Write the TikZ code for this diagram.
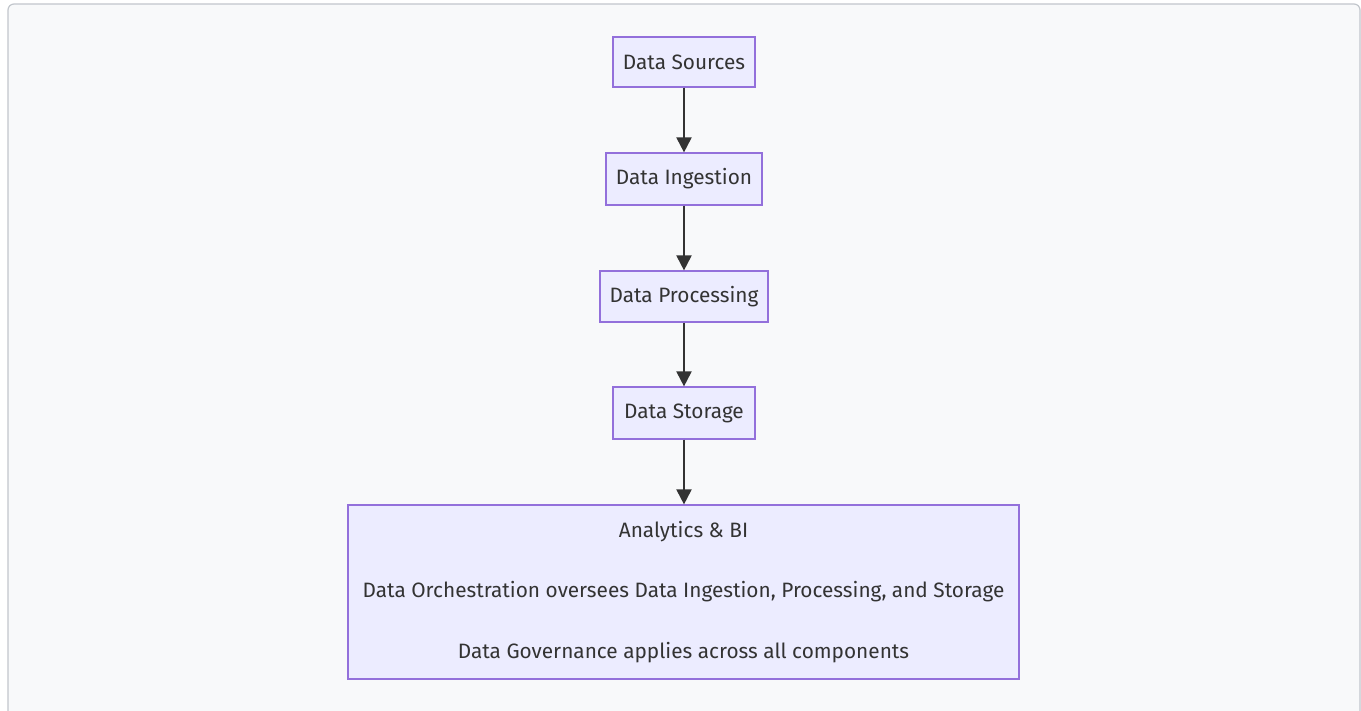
\documentclass[tikz,border=0pt]{standalone}
\usepackage{fontspec}
\setmainfont{Fira Sans}
\usetikzlibrary{arrows.meta}
\definecolor{pagebg}{HTML}{F8F9FA}
\definecolor{frameline}{HTML}{C2C6CC}
\definecolor{boxfill}{HTML}{ECECFF}
\definecolor{boxline}{HTML}{9370DB}
\definecolor{ink}{HTML}{333333}
\tikzset{
  x=1pt, y=-1pt,
  stage/.style={draw=boxline, fill=boxfill, line width=1.2pt, text=ink,
    font=\fontsize{20.8}{25}\selectfont, inner sep=0pt, anchor=center},
  flow/.style={draw=ink, line width=2pt, -{Triangle[length=15pt,width=15pt]}}
}
\begin{document}
\begin{tikzpicture}
  \useasboundingbox (0,0) rectangle (1361,710);
  \clip (0,0) rectangle (1361,710);
  \fill[white] (0,0) rectangle (1361,710);
  % rounded panel behind the flow
  \draw[frameline, fill=pagebg, line width=1.2pt, rounded corners=6pt]
    (8,4) rectangle (1360,730);

  \node[stage, minimum width=142pt, minimum height=50pt] (src) at (684,62) {Data Sources};
  \node[stage, minimum width=156pt, minimum height=52pt] (ing) at (684,179) {Data Ingestion};
  \node[stage, minimum width=168pt, minimum height=51pt] (proc) at (684,296.5) {Data Processing};
  \node[stage, minimum width=142pt, minimum height=52pt] (stor) at (684,413) {Data Storage};
  \node[stage, minimum width=671pt, minimum height=174pt, align=center,
        font=\fontsize{20.8}{60.5}\selectfont] (bi) at (683.5,592)
    {Analytics \& BI\\Data Orchestration oversees Data Ingestion, Processing, and Storage\\Data Governance applies across all components};

  \draw[flow] (src) -- (ing);
  \draw[flow] (ing) -- (proc);
  \draw[flow] (proc) -- (stor);
  \draw[flow] (stor) -- (stor |- bi.north);
\end{tikzpicture}
\end{document}
